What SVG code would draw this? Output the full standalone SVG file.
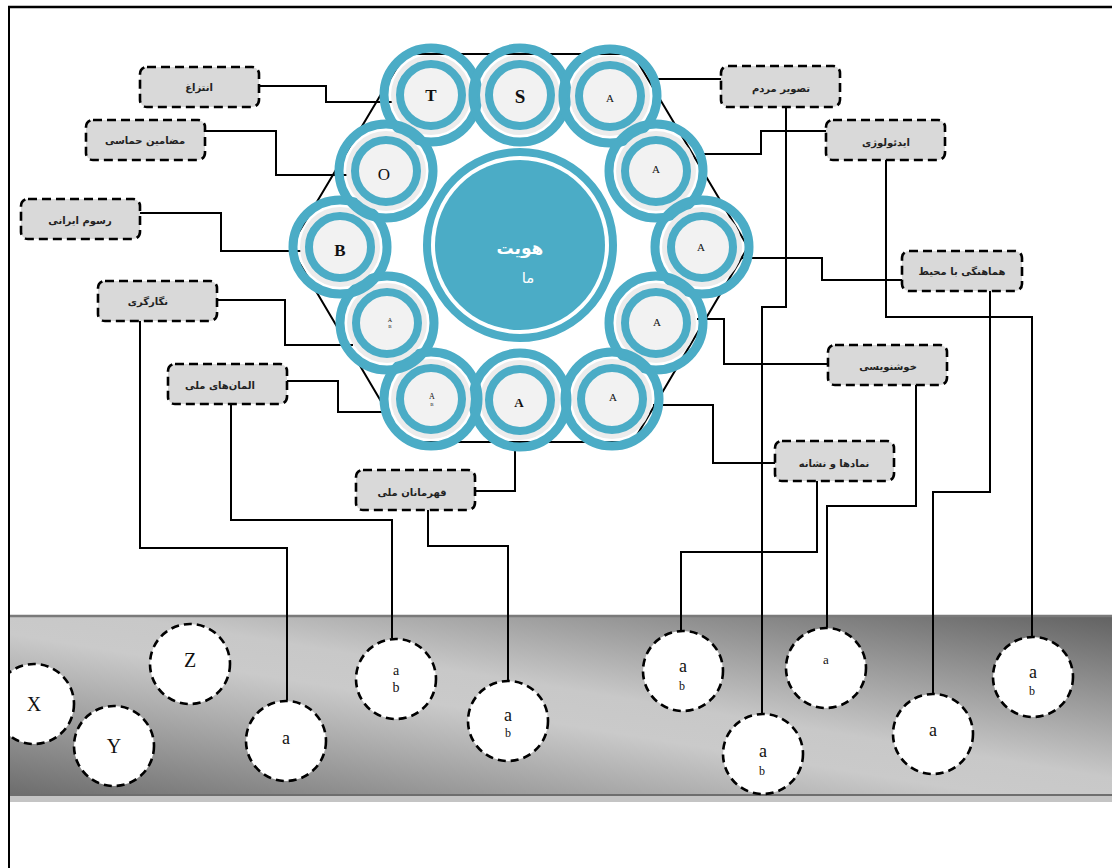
<svg xmlns="http://www.w3.org/2000/svg" width="1112" height="868" viewBox="0 0 1112 868">
<style>
.lbl rect{fill:#d9d9d9;stroke:#000;stroke-width:2.6;stroke-dasharray:9 5}
.lbl text{font-family:"DejaVu Sans",sans-serif;font-size:10px;font-weight:bold;fill:#222;text-anchor:middle}
.outer{fill:none;stroke:#4BACC6;stroke-width:9}
.halo{fill:#ececec}
.inner{fill:#f2f2f2;stroke:#4BACC6;stroke-width:8}
.nt{font-family:"Liberation Serif",serif;fill:#111;text-anchor:middle}
.bc circle{fill:#fff;stroke:#000;stroke-width:2.6;stroke-dasharray:8 5}
.bc text{font-family:"Liberation Serif",serif;fill:#111;text-anchor:middle}
#connectors path{fill:none;stroke:#000;stroke-width:2}
</style>
<defs>
<linearGradient id="band" x1="0" y1="1" x2="1" y2="0">
<stop offset="0" stop-color="#6c6c6c"/>
<stop offset="0.45" stop-color="#cacaca"/>
<stop offset="0.55" stop-color="#c8c8c8"/>
<stop offset="1" stop-color="#626262"/>
</linearGradient>
<clipPath id="inside"><rect x="10" y="0" width="1102" height="868"/></clipPath>
</defs>
<rect width="1112" height="868" fill="#fff"/>
<!-- bottom band -->
<g id="band-area">
<rect x="10" y="616" width="1102" height="180" fill="url(#band)"/>
<line x1="10" y1="616" x2="1112" y2="616" stroke="#7a7a7a" stroke-width="2.5"/>
<line x1="10" y1="795" x2="1112" y2="795" stroke="#6e6e6e" stroke-width="2"/>
<rect x="10" y="796" width="1102" height="6" fill="#c4c4c4"/>
</g>
<!-- hexagon -->
<polygon points="405,54 633,54 748,247 633,442 405,442 290,247" fill="none" stroke="#000" stroke-width="2"/>
<!-- connectors -->
<g id="connectors">
<path d="M259,86 H326 V102 H392"/>
<path d="M205,131 H276 V175 H348"/>
<path d="M140,213 H221 V251 H303"/>
<path d="M217,300 H285 V345 H353"/>
<path d="M140,320 V548 H287 V700"/>
<path d="M287,381 H338 V412 H390"/>
<path d="M231,404 V520 H392 V638"/>
<path d="M475,491 H515 V443"/>
<path d="M428,510 V546 H508 V680"/>
<path d="M721,79 H653"/>
<path d="M786,107 V307 H762 V713"/>
<path d="M826,131 H761 V154 H697"/>
<path d="M886,160 V317 H1032 V637"/>
<path d="M902,280 H822 V258 H742"/>
<path d="M990,291 V492 H933 V693"/>
<path d="M828,364 H724 V319 H697"/>
<path d="M916,385 V506 H827 V627"/>
<path d="M775,463 H713 V405 H653"/>
<path d="M817,481 V552 H681 V630"/>
</g>
<!-- center node -->
<g id="center">
<circle cx="520" cy="245" r="93" fill="none" stroke="#4BACC6" stroke-width="8"/>
<circle cx="520" cy="245" r="85" fill="#4BACC6"/>
<text x="520" y="254" font-family="DejaVu Sans,sans-serif" font-size="17" font-weight="bold" fill="#fff" text-anchor="middle">هويت</text>
<text x="528" y="283" font-family="DejaVu Sans,sans-serif" font-size="15" fill="#fff" text-anchor="middle">ما</text>
</g>
<!-- ring nodes -->
<g id="n1"><circle class="outer" cx="431" cy="95" r="47"/><circle class="halo" cx="431" cy="95" r="40"/><circle class="inner" cx="431" cy="95" r="31"/><text class="nt" x="431" y="101" font-size="17" font-weight="bold">T</text></g>
<g id="n2"><circle class="outer" cx="520" cy="95" r="47"/><circle class="halo" cx="520" cy="95" r="40"/><circle class="inner" cx="520" cy="95" r="31"/><text class="nt" x="520" y="103" font-size="19" font-weight="bold">S</text></g>
<g id="n3"><circle class="outer" cx="610" cy="96" r="47"/><circle class="halo" cx="610" cy="96" r="40"/><circle class="inner" cx="610" cy="96" r="31"/><text class="nt" x="610" y="102" font-size="11">A</text></g>
<g id="n4"><circle class="outer" cx="656" cy="171" r="47"/><circle class="halo" cx="656" cy="171" r="40"/><circle class="inner" cx="656" cy="171" r="31"/><text class="nt" x="656" y="173" font-size="11">A</text></g>
<g id="n5"><circle class="outer" cx="702" cy="247" r="47"/><circle class="halo" cx="702" cy="247" r="40"/><circle class="inner" cx="702" cy="247" r="31"/><text class="nt" x="701" y="251" font-size="11">A</text></g>
<g id="n6"><circle class="outer" cx="656" cy="323" r="47"/><circle class="halo" cx="656" cy="323" r="40"/><circle class="inner" cx="656" cy="323" r="31"/><text class="nt" x="657" y="326" font-size="11">A</text></g>
<g id="n7"><circle class="outer" cx="612" cy="399" r="47"/><circle class="halo" cx="612" cy="399" r="40"/><circle class="inner" cx="612" cy="399" r="31"/><text class="nt" x="613" y="401" font-size="11">A</text></g>
<g id="n8"><circle class="outer" cx="520" cy="400" r="47"/><circle class="halo" cx="520" cy="400" r="40"/><circle class="inner" cx="520" cy="400" r="31"/><text class="nt" x="519" y="407" font-size="13" font-weight="bold">A</text></g>
<g id="n9"><circle class="outer" cx="431" cy="399" r="47"/><circle class="halo" cx="431" cy="399" r="40"/><circle class="inner" cx="431" cy="399" r="31"/><text class="nt" x="432" y="399" font-size="8">A</text><text class="nt" x="432" y="406" font-size="5">B</text></g>
<g id="n10"><circle class="outer" cx="387" cy="323" r="47"/><circle class="halo" cx="387" cy="323" r="40"/><circle class="inner" cx="387" cy="323" r="31"/><text class="nt" x="390" y="322" font-size="6">A</text><text class="nt" x="390" y="328" font-size="5">B</text></g>
<g id="n11"><circle class="outer" cx="340" cy="247" r="47"/><circle class="halo" cx="340" cy="247" r="40"/><circle class="inner" cx="340" cy="247" r="31"/><text class="nt" x="340" y="256" font-size="17" font-weight="bold">B</text></g>
<g id="n12"><circle class="outer" cx="386" cy="171" r="47"/><circle class="halo" cx="386" cy="171" r="40"/><circle class="inner" cx="386" cy="171" r="31"/><text class="nt" x="384" y="180" font-size="17">O</text></g>
<!-- label boxes -->
<g id="L1" class="lbl"><rect x="140" y="67" width="119" height="40" rx="7"/><text x="199" y="91">انتزاغ</text></g>
<g id="L2" class="lbl"><rect x="86" y="120" width="119" height="40" rx="7"/><text x="145" y="144">مضامین حماسی</text></g>
<g id="L3" class="lbl"><rect x="21" y="199" width="119" height="40" rx="7"/><text x="80" y="224">رسوم ایرانی</text></g>
<g id="L4" class="lbl"><rect x="98" y="281" width="119" height="40" rx="7"/><text x="148" y="305">نگارگری</text></g>
<g id="L5" class="lbl"><rect x="168" y="364" width="119" height="40" rx="7"/><text x="220" y="389">المان‌های ملی</text></g>
<g id="L6" class="lbl"><rect x="356" y="470" width="119" height="40" rx="7"/><text x="412" y="496">قهرمانان ملی</text></g>
<g id="L7" class="lbl"><rect x="721" y="66" width="119" height="41" rx="7"/><text x="781" y="92">تصویر مردم</text></g>
<g id="L8" class="lbl"><rect x="826" y="120" width="119" height="40" rx="7"/><text x="886" y="146">ایدئولوژی</text></g>
<g id="L9" class="lbl"><rect x="902" y="251" width="120" height="40" rx="7"/><text x="962" y="275">هماهنگی با محیط</text></g>
<g id="L10" class="lbl"><rect x="828" y="345" width="119" height="40" rx="7"/><text x="888" y="370">خوشنویسی</text></g>
<g id="L11" class="lbl"><rect x="775" y="441" width="119" height="40" rx="7"/><text x="834" y="467">نمادها و نشانه</text></g>
<!-- bottom circles -->
<g id="bX" class="bc" clip-path="url(#inside)"><circle cx="34" cy="704" r="40"/><text x="34" y="711" font-size="20">X</text></g>
<g id="bY" class="bc"><circle cx="114" cy="746" r="40"/><text x="114" y="753" font-size="20">Y</text></g>
<g id="bZ" class="bc"><circle cx="190" cy="664" r="40"/><text x="190" y="667" font-size="20">Z</text></g>
<g id="b1" class="bc"><circle cx="286" cy="741" r="40"/><text x="286" y="744" font-size="18">a</text></g>
<g id="b2" class="bc"><circle cx="396" cy="679" r="40"/><text x="396" y="675" font-size="14">a</text><text x="396" y="692" font-size="14">b</text></g>
<g id="b3" class="bc"><circle cx="508" cy="721" r="40"/><text x="508" y="721" font-size="18">a</text><text x="508" y="737" font-size="12">b</text></g>
<g id="b4" class="bc"><circle cx="683" cy="671" r="40"/><text x="683" y="672" font-size="18">a</text><text x="682" y="690" font-size="12">b</text></g>
<g id="b5" class="bc"><circle cx="763" cy="754" r="40"/><text x="763" y="757" font-size="18">a</text><text x="762" y="775" font-size="12">b</text></g>
<g id="b6" class="bc"><circle cx="826" cy="668" r="40"/><text x="826" y="664" font-size="13">a</text></g>
<g id="b7" class="bc"><circle cx="933" cy="734" r="40"/><text x="933" y="736" font-size="18">a</text></g>
<g id="b8" class="bc"><circle cx="1033" cy="677" r="40"/><text x="1033" y="678" font-size="18">a</text><text x="1032" y="695" font-size="12">b</text></g>
<!-- frame -->
<line x1="8" y1="7" x2="1112" y2="7" stroke="#000" stroke-width="2.6"/>
<line x1="9" y1="6" x2="9" y2="868" stroke="#000" stroke-width="2"/>
</svg>
